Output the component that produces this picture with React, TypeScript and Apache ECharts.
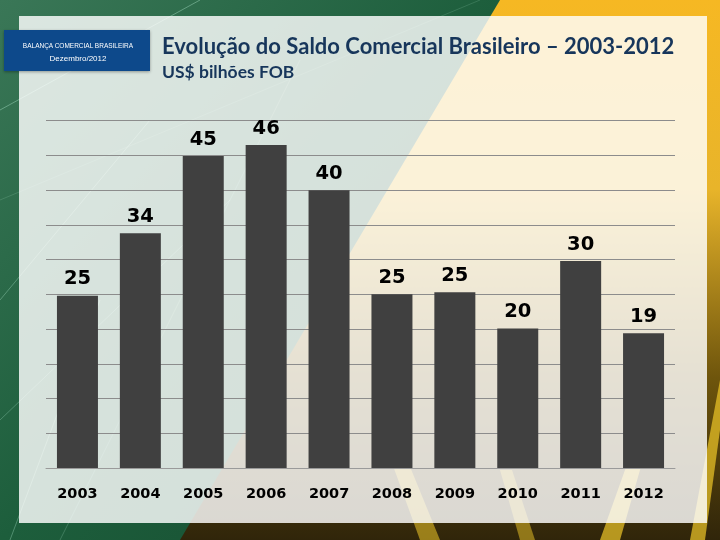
import React, { useEffect, useRef } from "react";
import * as echarts from "echarts";

const years = ["2003", "2004", "2005", "2006", "2007", "2008", "2009", "2010", "2011", "2012"];
const saldo = [24.8, 33.8, 44.9, 46.5, 40.0, 25.0, 25.3, 20.1, 29.8, 19.4];
const labels = ["25", "34", "45", "46", "40", "25", "25", "20", "30", "19"];
const titleText = "Evolução do Saldo Comercial Brasileiro – 2003-2012";
const subtitleText = "US$ bilhões FOB";
const boxLine1 = "BALANÇA COMERCIAL BRASILEIRA";
const boxLine2 = "Dezembro/2012";

export default function App() {
  const ref = useRef<HTMLDivElement>(null);
  useEffect(() => {
    if (!ref.current) return;
    const chart = echarts.init(ref.current, null, { renderer: "svg" });
    const navy = "#17365b";
    const streak = (pts: number[][], color: string) => ({
      type: "polygon",
      silent: true,
      z: -9,
      shape: { points: pts },
      style: { fill: color },
    });
    const thin = (x1: number, y1: number, x2: number, y2: number, op: number) => ({
      type: "line",
      silent: true,
      z: -8,
      shape: { x1, y1, x2, y2 },
      style: { stroke: "rgba(200,255,230," + op + ")", lineWidth: 1 },
    });
    chart.setOption({
      animation: false,
      backgroundColor: "transparent",
      graphic: [
        {
          type: "rect",
          silent: true,
          z: -10,
          shape: { x: 0, y: 0, width: 720, height: 540 },
          style: {
            fill: new echarts.graphic.LinearGradient(0, 0, 0, 1, [
              { offset: 0, color: "#f6b823" },
              { offset: 0.35, color: "#e8b42a" },
              { offset: 0.7, color: "#6e550c" },
              { offset: 1, color: "#30250a" },
            ]),
          },
        },
        streak([[600, 540], [650, 400], [660, 400], [620, 540]], "rgba(240,200,40,0.7)"),
        streak([[690, 540], [720, 380], [720, 430], [705, 540]], "rgba(240,200,40,0.7)"),
        streak([[420, 540], [380, 430], [395, 430], [440, 540]], "rgba(240,200,40,0.55)"),
        streak([[520, 540], [500, 470], [512, 470], [535, 540]], "rgba(240,200,40,0.5)"),
        {
          type: "polygon",
          silent: true,
          z: -9,
          shape: { points: [[0, 0], [500, 0], [180, 540], [0, 540]] },
          style: {
            fill: new echarts.graphic.LinearGradient(0, 0, 1, 1, [
              { offset: 0, color: "#3a7757" },
              { offset: 0.5, color: "#1d5e3c" },
              { offset: 1, color: "#154a2e" },
            ]),
          },
        },
        thin(0, 110, 200, 0, 0.35),
        thin(0, 300, 150, 120, 0.3),
        thin(0, 420, 230, 200, 0.25),
        thin(60, 540, 300, 60, 0.2),
        thin(0, 200, 480, 0, 0.15),
        thin(10, 540, 100, 300, 0.3),
        {
          type: "rect",
          silent: true,
          z: -7,
          shape: { x: 19, y: 16, width: 688, height: 507 },
          style: { fill: "rgba(255,255,255,0.82)" },
        },
        {
          type: "rect",
          silent: true,
          z: 5,
          shape: { x: 4, y: 30, width: 146, height: 41 },
          style: { fill: "#0b4a8b", shadowBlur: 3, shadowColor: "rgba(0,0,0,0.35)", shadowOffsetY: 1 },
        },
        {
          type: "text",
          silent: true,
          z: 6,
          x: 78,
          y: 45,
          style: {
            text: boxLine1,
            fill: "#ffffff",
            font: "6.5px 'Liberation Sans', sans-serif",
            align: "center",
            verticalAlign: "middle",
          },
        },
        {
          type: "text",
          silent: true,
          z: 6,
          x: 78,
          y: 58,
          style: {
            text: boxLine2,
            fill: "#ffffff",
            font: "8px 'Liberation Sans', sans-serif",
            align: "center",
            verticalAlign: "middle",
          },
        },
        {
          type: "text",
          silent: true,
          z: 6,
          x: 162,
          y: 45,
          style: {
            text: titleText,
            fill: navy,
            font: "bold 22px Lato, sans-serif",
            align: "left",
            verticalAlign: "middle",
            textShadowColor: "rgba(0,0,0,0.25)",
            textShadowOffsetX: 1,
            textShadowOffsetY: 1,
          },
        },
        {
          type: "text",
          silent: true,
          z: 6,
          x: 162,
          y: 71,
          style: {
            text: subtitleText,
            fill: navy,
            font: "bold 17.5px Lato, sans-serif",
            align: "left",
            verticalAlign: "middle",
            textShadowColor: "rgba(0,0,0,0.2)",
            textShadowOffsetX: 1,
            textShadowOffsetY: 1,
          },
        },
      ],
      grid: { left: 46, right: 45, top: 120.7, bottom: 72, containLabel: false },
      xAxis: {
        type: "category",
        data: years,
        axisLine: { show: true, lineStyle: { color: "#9a9a9a", width: 1 } },
        axisTick: { show: false },
        axisLabel: {
          color: "#000000",
          fontFamily: "'DejaVu Sans', sans-serif",
          fontWeight: "bold",
          fontSize: 14.5,
          margin: 17,
        },
      },
      yAxis: {
        type: "value",
        min: 0,
        max: 50,
        interval: 5,
        axisLine: { show: false },
        axisTick: { show: false },
        axisLabel: { show: false },
        splitLine: { show: true, lineStyle: { color: "#8c8c8c", width: 1 } },
      },
      series: [
        {
          type: "bar",
          data: saldo,
          barWidth: 41,
          itemStyle: { color: "#404040" },
          label: {
            show: true,
            position: "top",
            distance: 8,
            color: "#000000",
            fontFamily: "'DejaVu Sans', sans-serif",
            fontWeight: "bold",
            fontSize: 19.5,
            formatter: (p: any) => labels[p.dataIndex],
          },
        },
      ],
    });
    return () => chart.dispose();
  }, []);
  return <div ref={ref} style={{ width: 720, height: 540, position: "fixed", left: 0, top: 0 }} />;
}
